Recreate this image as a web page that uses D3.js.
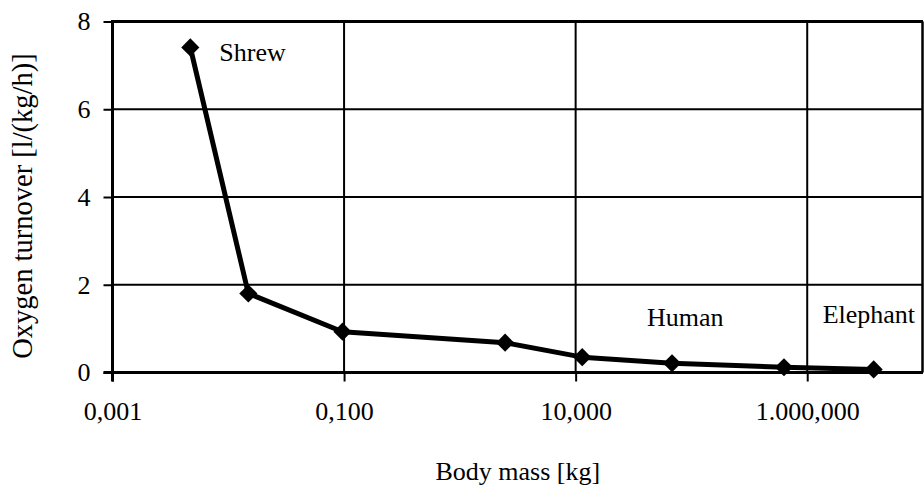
<!DOCTYPE html>
<html>
<head>
<meta charset="utf-8">
<script src="https://cdn.jsdelivr.net/npm/d3@7"></script>
<style>
html,body{margin:0;padding:0;background:#fff;}
svg{display:block;}
</style>
</head>
<body>
<svg id="chart" width="924" height="486"></svg>
<script>
// Data
const bodyMass = [0.0047, 0.0149, 0.097, 2.46, 11.4, 68, 630, 3750];
const oxygenTurnover = [7.41, 1.80, 0.93, 0.68, 0.35, 0.21, 0.12, 0.07];
const xTickValues = [0.001, 0.1, 10, 1000];
const xTickLabels = ["0,001", "0,100", "10,000", "1.000,000"];
const yTickValues = [0, 2, 4, 6, 8];
const annotationLabels = ["Shrew", "Human", "Elephant"];
const annotationMass = [0.0047, 68, 3750];
const annotationValue = [7.41, 1.05, 1.13];

const FONT = "Liberation Serif";
const FS = 26;
const svg = d3.select("#chart");
const pLeft = 112.5, pRight = 923, pTop = 21.5, pBottom = 372.5;

const x = d3.scaleLog().domain([0.001, 10000]).range([pLeft, pRight]);
const y = d3.scaleLinear().domain([0, 8]).range([pBottom, pTop]);

// Gridlines
svg.append("g").selectAll("line").data(yTickValues.filter(v => v > 0 && v < 8))
  .join("line")
  .attr("x1", pLeft).attr("x2", pRight)
  .attr("y1", d => y(d)).attr("y2", d => y(d))
  .attr("stroke", "#000").attr("stroke-width", 2);
svg.append("g").selectAll("line").data(xTickValues.filter(v => v > 0.001))
  .join("line")
  .attr("x1", d => x(d)).attr("x2", d => x(d))
  .attr("y1", pTop).attr("y2", pBottom)
  .attr("stroke", "#000").attr("stroke-width", 2);

// Top & right borders
svg.append("line").attr("x1", pLeft).attr("x2", pRight).attr("y1", pTop).attr("y2", pTop)
  .attr("stroke", "#000").attr("stroke-width", 3);
svg.append("line").attr("x1", pRight - 0.5).attr("x2", pRight - 0.5).attr("y1", pTop).attr("y2", pBottom)
  .attr("stroke", "#000").attr("stroke-width", 2.5);

// Axes
const xAxis = d3.axisBottom(x).tickValues(xTickValues)
  .tickFormat((d, i) => xTickLabels[i]).tickSize(9).tickPadding(20);
const gx = svg.append("g").attr("transform", `translate(0,${pBottom})`).call(xAxis)
  .attr("font-family", FONT).attr("font-size", FS);
gx.select(".domain").attr("d", `M${pLeft - 9},0H${pRight}`).attr("stroke-width", 3);
gx.selectAll(".tick line").attr("stroke-width", 2);
gx.selectAll(".tick text").attr("fill", "#000");

const yAxis = d3.axisLeft(y).tickValues(yTickValues).tickFormat(d3.format("d")).tickSize(9).tickPadding(13);
const gy = svg.append("g").attr("transform", `translate(${pLeft},0)`).call(yAxis)
  .attr("font-family", FONT).attr("font-size", FS);
gy.select(".domain").attr("d", `M0,${pTop - 1.5}V${pBottom + 9}`).attr("stroke-width", 3);
gy.selectAll(".tick line").attr("stroke-width", 2);
gy.selectAll(".tick text").attr("fill", "#000");

// Line
const line = d3.line().x((d, i) => x(bodyMass[i])).y(d => y(d));
svg.append("path").datum(oxygenTurnover)
  .attr("d", line).attr("fill", "none").attr("stroke", "#000")
  .attr("stroke-width", 5).attr("stroke-linejoin", "round");

// Markers (diamonds)
svg.append("g").selectAll("path").data(oxygenTurnover).join("path")
  .attr("d", d3.symbol().type(d3.symbolDiamond2).size(210))
  .attr("transform", (d, i) => `translate(${x(bodyMass[i])},${y(d)})`)
  .attr("fill", "#000");

// Annotations
const annOffsetX = [29, -25, -51];
const annOffsetY = [14, 0, 0];
svg.append("g").selectAll("text").data(annotationLabels).join("text")
  .attr("x", (d, i) => x(annotationMass[i]) + annOffsetX[i])
  .attr("y", (d, i) => y(annotationValue[i]) + annOffsetY[i])
  .attr("font-family", FONT).attr("font-size", FS)
  .text(d => d);

// Axis titles
svg.append("text").attr("x", (pLeft + pRight) / 2).attr("y", 480).attr("text-anchor", "middle")
  .attr("font-family", FONT).attr("font-size", FS)
  .text("Body mass [kg]");
svg.append("text").attr("transform", "translate(32,206) rotate(-90)").attr("text-anchor", "middle")
  .attr("font-family", FONT).attr("font-size", 28.5)
  .text("Oxygen turnover [l/(kg/h)]");
</script>
</body>
</html>
